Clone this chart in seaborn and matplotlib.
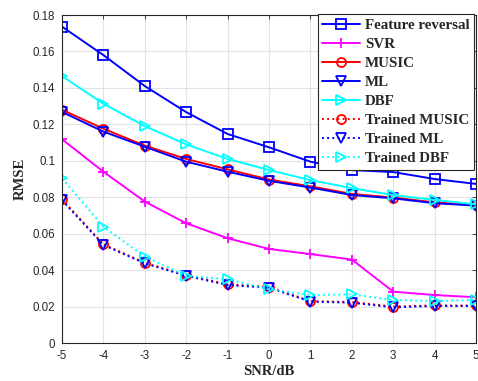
import numpy as np
import pandas as pd
import matplotlib
matplotlib.use("Agg")
import matplotlib.pyplot as plt
import seaborn as sns

snr = [-5, -4, -3, -2, -1, 0, 1, 2, 3, 4, 5]
feature_reversal = [0.1736, 0.158, 0.141, 0.1267, 0.1147, 0.1074, 0.0995, 0.0949, 0.0938, 0.0900, 0.0873]
svr = [0.1118, 0.0940, 0.0776, 0.0657, 0.0575, 0.0516, 0.0488, 0.0458, 0.0282, 0.0263, 0.0251]
music = [0.1280, 0.1176, 0.1083, 0.1010, 0.0953, 0.0897, 0.0860, 0.0818, 0.0798, 0.0772, 0.0758]
ml = [0.1268, 0.1160, 0.1077, 0.0995, 0.0940, 0.0890, 0.0853, 0.0812, 0.0794, 0.0767, 0.0754]
dbf = [0.1465, 0.1313, 0.1190, 0.1090, 0.1010, 0.0949, 0.0894, 0.0850, 0.0812, 0.0785, 0.0761]
trained_music = [0.0789, 0.0542, 0.0440, 0.0372, 0.0322, 0.0309, 0.0230, 0.0225, 0.0200, 0.0206, 0.0206]
trained_ml = [0.0783, 0.0538, 0.0437, 0.0369, 0.0318, 0.0303, 0.0227, 0.0221, 0.0196, 0.0203, 0.0203]
trained_dbf = [0.0904, 0.0638, 0.0474, 0.0368, 0.0350, 0.0295, 0.0263, 0.0267, 0.0236, 0.0230, 0.0236]

series = [
    ("Feature reversal", feature_reversal, "#0000ff", "-", "s"),
    ("SVR", svr, "#ff00ff", "-", "+"),
    ("MUSIC", music, "#ff0000", "-", "o"),
    ("ML", ml, "#0000ff", "-", "v"),
    ("DBF", dbf, "#00ffff", "-", ">"),
    ("Trained MUSIC", trained_music, "#ff0000", ":", "o"),
    ("Trained ML", trained_ml, "#0000ff", ":", "v"),
    ("Trained DBF", trained_dbf, "#00ffff", ":", ">"),
]

sns.set_style("white")
W, H = 478, 381
fig = plt.figure(figsize=(W / 100, H / 100), dpi=100)
ax = fig.add_axes([62 / W, 1 - 343 / H, (476 - 62) / W, (343 - 15) / H])

for name, vals, color, ls, mk in series:
    df = pd.DataFrame({"SNR": snr, "RMSE": vals})
    sns.lineplot(data=df, x="SNR", y="RMSE", ax=ax, color=color, linestyle=ls,
                 marker=mk, markersize=6.5, markerfacecolor="none",
                 markeredgecolor=color, markeredgewidth=1.3, linewidth=1.4,
                 label=name)

ax.set_xlim(-5, 5)
ax.set_ylim(0, 0.18)
ax.set_xticks(snr)
ax.set_xticklabels([str(v) for v in snr])
yt = [0, 0.02, 0.04, 0.06, 0.08, 0.1, 0.12, 0.14, 0.16, 0.18]
ax.set_yticks(yt)
ax.set_yticklabels(["0", "0.02", "0.04", "0.06", "0.08", "0.1", "0.12", "0.14", "0.16", "0.18"])
ax.grid(True, color="#e3e3e3", linewidth=0.8)
ax.set_axisbelow(True)
for s in ax.spines.values():
    s.set_color("#262626")
    s.set_linewidth(0.8)
    s.set_visible(True)
ax.tick_params(direction="in", length=3, width=0.6, top=True, right=True,
               colors="#262626", labelsize=8.3, pad=5)
for lab in ax.get_xticklabels() + ax.get_yticklabels():
    lab.set_family("Liberation Sans")

ax.set_xlabel("SNR/dB", family="Liberation Serif", fontweight="bold", fontsize=10.5, labelpad=2)
ax.set_ylabel("RMSE", family="Liberation Serif", fontweight="bold", fontsize=10.5, labelpad=4)

leg = ax.legend(loc="upper right", bbox_to_anchor=(0.995, 1.003), frameon=True, fancybox=False,
                edgecolor="#262626", framealpha=1, handlelength=2.5, handletextpad=0.35,
                labelspacing=0.37, borderpad=0.3, borderaxespad=0.0,
                prop={"family": "Liberation Serif", "weight": "bold", "size": 10.8})
leg.get_frame().set_linewidth(0.8)

fig.savefig("out.png", dpi=100)
